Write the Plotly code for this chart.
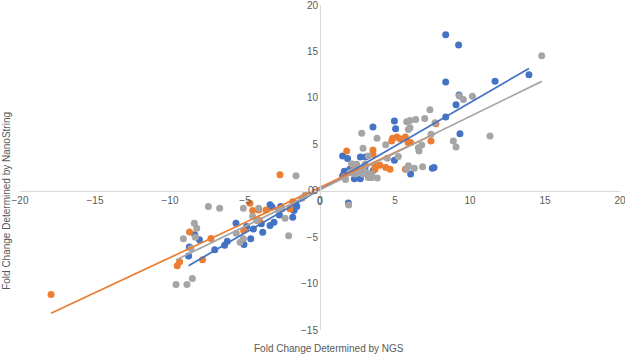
import numpy as np
import plotly.graph_objects as go

# ---- data ----
blue_x = [8.38, 9.24, 8.38, 11.67, 13.93, 9.07, 8.38, 9.33, 9.27, 4.96, 5.04, 3.53,
          1.51, 1.84, 2.69, 3.04, 4.96, 6.04, 7.49, 7.6, 1.62, 1.98, 1.51, 2.29, 2.69,
          3.56, 2.4, 3.0, 1.89,
          -8.76, -8.71, -8.35, -8.04, -7.02, -6.36, -6.18, -5.6, -5.07, -4.62, -4.44,
          -4.89, -3.91, -3.82, -3.33, -3.07, -2.71, -3.33, -3.2, -2.62, -1.82, -1.73,
          -1.55, -1.62]
blue_y = [16.8, 15.7, 11.7, 11.8, 12.5, 9.25, 7.93, 6.14, 10.3, 7.5, 6.68, 6.86,
          3.75, 3.47, 3.64, 3.64, 3.29, 1.79, 2.43, 2.5, 2.1, 2.3, 1.6, 1.3, 1.3,
          2.21, 2.0, 2.5, -1.32,
          -7.04, -6.07, -4.75, -5.29, -6.36, -5.86, -5.43, -3.5, -5.79, -5.18, -4.11,
          -3.86, -3.57, -4.46, -3.75, -3.39, -2.61, -1.5, -1.75, -1.71, -2.86, -2.14,
          -1.71, -1.4]

orange_x = [-17.93, -2.67, -4.67, -4.49, -4.09, -3.6, -4.04, -5.09, -7.27, -8.7,
            -7.83, -9.36, -9.52, -1.82, -2.0,
            1.78, 3.53, 3.53, 2.18, 1.62, 4.78, 4.84, 5.13, 5.33, 5.69, 5.87, 6.04,
            4.67, 3.67, 4.0, 4.38, 3.67, 7.4, 7.73, 5.69]
orange_y = [-11.18, 1.71, -1.36, -2.14, -2.07, -2.07, -3.21, -4.29, -5.14, -4.45,
            -7.43, -7.66, -8.09, -1.18, -1.96,
            4.29, 4.39, 3.9, 2.79, 1.5, 5.36, 5.64, 5.79, 5.6, 5.79, 5.18, 5.18,
            2.32, 2.75, 2.75, 2.5, 2.32, 5.36, 7.21, 2.3]

gray_x = [14.78, 10.16, 9.56, 9.3, 7.33, 7.67, 6.98, 6.38, 5.78, 6.0, 5.89, 6.0,
          2.78, 3.8, 2.87, 4.38, 5.22, 8.89, 9.07, 11.33, 7.4, 6.78, 6.56, 6.6, 6.84,
          6.29, 5.89, 5.78, 3.82, 2.44, 2.56, 2.84, 3.11, 3.44, 3.44, 3.22, 3.0, 2.22,
          2.0, 2.33, 2.62, 2.89, 3.22, 4.49, 1.91, 1.7, 2.1,
          -1.6, -7.44, -6.69, -5.11, -4.09, -8.38, -8.22, -9.11, -8.31, -8.6, -8.51,
          -9.6, -8.87, -5.58, -5.33, -5.11, -4.49, -4.22, -2.78, -2.33, -2.09, -2.56,
          -1.2, -1.0]
gray_y = [14.54, 10.18, 9.82, 10.2, 8.71, 7.32, 7.79, 7.68, 7.43, 7.57, 6.6, 6.79,
          6.18, 5.64, 4.57, 4.96, 3.68, 5.36, 4.71, 5.89, 6.07, 4.93, 4.64, 4.29, 2.57,
          2.43, 2.68, 2.32, 1.36, 2.86, 2.5, 1.79, 1.97, 1.79, 1.43, 1.43, 2.86, 2.14,
          1.97, 1.79, 2.04, 2.32, 3.75, 3.5, -1.54, 1.2, 2.9,
          1.61, -1.71, -1.89, -1.89, -1.89, -3.5, -4.04, -5.18, -5.0, -6.21, -9.46,
          -10.11, -10.11, -4.57, -5.54, -5.18, -2.75, -3.21, -2.07, -2.96, -4.86, -1.96,
          -0.8, -0.5]

# linear trendlines: slope, intercept
trend_slope = [0.936, 0.755, 0.789]
trend_intercept = [0.13, 0.35, 0.11]

x_ticks = [-20, -15, -10, -5, 0, 5, 10, 15, 20]
y_ticks = [-15, -10, -5, 0, 5, 10, 15, 20]

x_title = "Fold Change Determined by NGS"
y_title = "Fold Change Determined by NanoString"

series = [
    ("Blue", blue_x, blue_y, "#4472C4"),
    ("Orange", orange_x, orange_y, "#ED7D31"),
    ("Gray", gray_x, gray_y, "#A5A5A5"),
]

fig = go.Figure()
for name, xs, ys, col in series:
    fig.add_trace(go.Scatter(x=xs, y=ys, mode="markers", name=name,
                             marker=dict(color=col, size=7, line=dict(width=0))))
for (name, xs, ys, col), m, b in zip(series, trend_slope, trend_intercept):
    lx = np.array([min(xs), max(xs)])
    fig.add_trace(go.Scatter(x=lx, y=m * lx + b, mode="lines", name=name + " trend",
                             line=dict(color=col, width=1.75)))

xr = [-20, 20]
yr = [-15, 20]
font = dict(family="Liberation Sans, Arial, sans-serif", size=10, color="#595959")

fig.update_layout(
    width=625, height=355,
    margin=dict(l=20, r=5, t=5, b=25),
    plot_bgcolor="white", paper_bgcolor="white",
    showlegend=False,
    font=font,
    xaxis=dict(range=xr, tickvals=x_ticks, showgrid=False, zeroline=False,
               showline=True, linecolor="#D9D9D9", linewidth=1,
               anchor="free", position=(0 - yr[0]) / (yr[1] - yr[0]),
               ticks="", tickfont=font, automargin=False,
               ticklabeloverflow="allow"),
    yaxis=dict(range=yr, tickvals=y_ticks, showgrid=False, zeroline=False,
               showline=True, linecolor="#D9D9D9", linewidth=1,
               anchor="free", position=(0 - xr[0]) / (xr[1] - xr[0]),
               ticks="", tickfont=font, automargin=False,
               ticklabeloverflow="allow"),
    annotations=[
        dict(text=x_title, xref="paper", yref="paper", x=0.515, y=-0.058,
             yanchor="middle", xanchor="center", showarrow=False, font=font),
        dict(text=y_title, xref="paper", yref="paper", x=-0.023, y=0.398,
             yanchor="middle", xanchor="center", showarrow=False, textangle=-90,
             font=font),
        # zero tick labels at the axis crossing
        dict(text="0", xref="x", yref="y", x=0, y=0, xanchor="center",
             yanchor="middle", yshift=-11, showarrow=False, font=font),
        dict(text="0", xref="x", yref="y", x=0, y=0, xanchor="right",
             yanchor="middle", xshift=-4, showarrow=False, font=font),
    ],
)

fig.write_html("out.html", config={"displayModeBar": False},
               post_script="document.body.style.margin='0';")
